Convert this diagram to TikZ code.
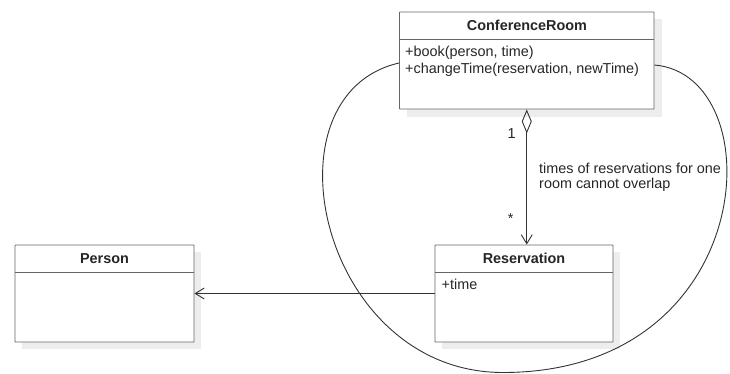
\documentclass[tikz,border=0pt]{standalone}
\usepackage{fontspec}
\setmainfont{Liberation Sans}
\usetikzlibrary{arrows.meta}
\begin{document}
\begin{tikzpicture}[x=1pt,y=-1pt,
  every node/.style={font=\fontsize{14.4}{14}\selectfont, text=black!85, inner sep=0pt},
  umlbox/.style={draw=black!60, line width=0.9pt, fill=white, rounded corners=0.6pt, minimum width=#1},
  shadowbox/.style={fill=black!7},
  divider/.style={draw=black!60, line width=0.9pt},
  conn/.style={draw=black!80, line width=0.9pt},
  hdr/.style={font=\fontsize{14.4}{14}\selectfont\bfseries, anchor=base},
  attr/.style={anchor=base west}
]
\useasboundingbox (0,0) rectangle (730,374);
% shadows
\fill[shadowbox] (407,19) rectangle (662,117);
\fill[shadowbox] (442,252) rectangle (620,349);
\fill[shadowbox] (22,252) rectangle (201,349);
% boxes
\node[umlbox=254.5pt, minimum height=97pt] (cr) at (526.75,60.5) {};
\node[umlbox=178pt, minimum height=97pt] (res) at (524,293.5) {};
\node[umlbox=179pt, minimum height=97pt] (person) at (104.5,293.5) {};
% dividers
\draw[divider] ([yshift=-27.5pt]cr.north west) -- ([yshift=-27.5pt]cr.north east);
\draw[divider] ([yshift=-27.7pt]res.north west) -- ([yshift=-27.7pt]res.north east);
\draw[divider] ([yshift=-27.7pt]person.north west) -- ([yshift=-27.7pt]person.north east);
% texts
\node[hdr] (crname) at (527,31) {ConferenceRoom};
\node[attr] (crop1) at (405,56.5) {+book(person, time)};
\node[attr] (crop2) at (405,73.5) {+changeTime(reservation, newTime)};
\node[hdr] (resname) at (524,263.3) {Reservation};
\node[attr] (resattr) at (441.5,289.3) {+time};
\node[hdr] (pname) at (104.5,263.3) {Person};
% aggregation
\draw[conn, {Diamond[open,length=24pt,width=10pt]}-{Straight Barb[length=9pt,width=11pt]}] (cr.south) -- (cr.south |- res.north);
\node[anchor=base] (m1) at (511.7,138.3) {1};
\node[anchor=base] (m2) at (510.7,223) {*};
\node[attr] (note1) at (539,174) {times of reservations for one};
\node[attr] (note2) at (539,188) {room cannot overlap};
% association
\draw[conn, -{Straight Barb[length=9pt,width=11pt]}] (res.west) -- (person.east);
% constraint curve
\coordinate (cb) at (503,372.5);
\draw[conn] ([yshift=-2.5pt]cr.west) .. controls (260,95) and (320,372.5) .. (cb)
  .. controls (760,372.5) and (774,75) .. ([yshift=-4.5pt]cr.east);
\end{tikzpicture}
\end{document}
